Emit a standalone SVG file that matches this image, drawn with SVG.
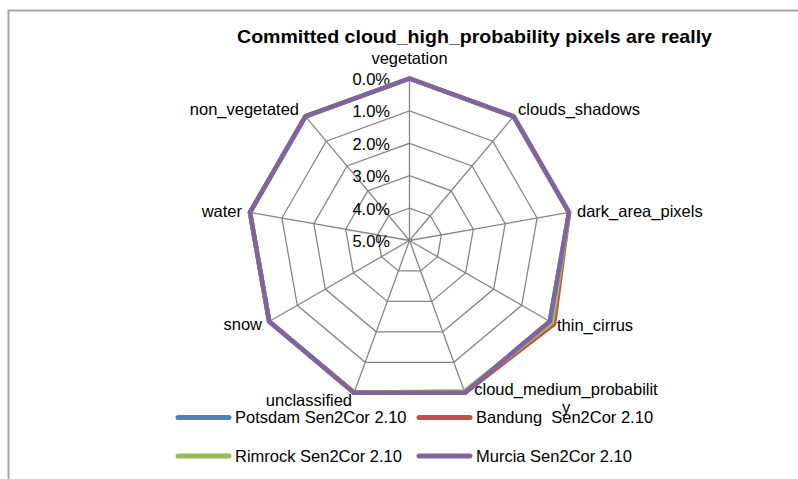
<svg xmlns="http://www.w3.org/2000/svg" width="798" height="479" viewBox="0 0 798 479">
<style>
.t{font-family:"Liberation Sans",Arial,sans-serif;font-size:16.5px;fill:#000}
.grid{fill:none;stroke:#868686;stroke-width:1.3}
.ser{fill:none;stroke-width:4.5;stroke-linejoin:round}
.leg{stroke-width:5;stroke-linecap:round}
</style>
<rect width="798" height="479" fill="#fff"/>
<path d="M8.5 479 V10.5 H798" fill="none" stroke="#a6a6a6" stroke-width="2"/>
<text x="474.5" y="43" font-family="Liberation Sans,Arial,sans-serif" font-size="19" font-weight="bold" text-anchor="middle" textLength="475" lengthAdjust="spacingAndGlyphs">Committed cloud_high_probability pixels are really</text>
<g id="grid">
<polygon class="grid" points="409.5,78.5 513.6,116.4 569,212.4 549.8,321.5 464.9,392.7 354.1,392.7 269.2,321.5 250,212.4 305.4,116.4"/>
<polygon class="grid" points="409.5,110.9 492.8,141.2 537.1,218 521.7,305.3 453.8,362.3 365.2,362.3 297.3,305.3 281.9,218 326.2,141.2"/>
<polygon class="grid" points="409.5,143.3 472,166 505.2,223.6 493.7,289.1 442.7,331.8 376.3,331.8 325.3,289.1 313.8,223.6 347,166"/>
<polygon class="grid" points="409.5,175.7 451.2,190.9 473.3,229.3 465.6,272.9 431.7,301.4 387.3,301.4 353.4,272.9 345.7,229.3 367.8,190.9"/>
<polygon class="grid" points="409.5,208.1 430.3,215.7 441.4,234.9 437.6,256.7 420.6,270.9 398.4,270.9 381.4,256.7 377.6,234.9 388.7,215.7"/>
<path class="grid" d="M409.5 240.5 L409.5 78.5 M409.5 240.5 L513.6 116.4 M409.5 240.5 L569 212.4 M409.5 240.5 L549.8 321.5 M409.5 240.5 L464.9 392.7 M409.5 240.5 L354.1 392.7 M409.5 240.5 L269.2 321.5 M409.5 240.5 L250 212.4 M409.5 240.5 L305.4 116.4"/>
</g>
<g id="ticks" class="t" text-anchor="end">
<text x="390" y="85">0.0%</text>
<text x="390" y="117.4">1.0%</text>
<text x="390" y="149.8">2.0%</text>
<text x="390" y="182.2">3.0%</text>
<text x="390" y="214.6">4.0%</text>
<text x="390" y="247">5.0%</text>
</g>
<g id="connectors">
<polygon id="potsdam" class="ser" stroke="#4F81BD" points="409.5,78.5 513.6,116.4 569,212.4 549.8,321.5 464.9,392.7 354.1,392.7 269.2,321.5 250,212.4 305.4,116.4"/>
<polygon id="bandung" class="ser" stroke="#C0504D" points="409.5,78.5 513.6,116.4 569,212.4 554.1,324 464.9,392.7 354.1,392.7 269.2,321.5 250,212.4 305.4,116.4"/>
<polygon id="rimrock" class="ser" stroke="#9BBB59" points="409.5,78.5 513.6,116.4 569,212.4 552,322.8 464.4,391.3 354.1,392.7 269.2,321.5 250,212.4 305.4,116.4"/>
<polygon id="murcia" class="ser" stroke="#8064A2" points="409.5,78.5 513.6,116.4 569,212.4 549.8,321.5 464.9,392.7 354.1,392.7 269.2,321.5 250,212.4 305.4,116.4"/>
</g>
<g id="axis-vegetation"><text class="t" x="409.5" y="64" text-anchor="middle">vegetation</text></g>
<g id="axis-clouds_shadows"><text class="t" x="518" y="115">clouds_shadows</text></g>
<g id="axis-dark_area_pixels"><text class="t" x="577" y="217">dark_area_pixels</text></g>
<g id="axis-thin_cirrus"><text class="t" x="557" y="331">thin_cirrus</text></g>
<g id="axis-cloud_medium_probability"><text class="t" text-anchor="middle"><tspan x="566" y="395">cloud_medium_probabilit</tspan><tspan x="566" y="413">y</tspan></text></g>
<g id="axis-unclassified"><text class="t" x="352" y="406" text-anchor="end">unclassified</text></g>
<g id="axis-snow"><text class="t" x="262" y="330" text-anchor="end">snow</text></g>
<g id="axis-water"><text class="t" x="242" y="217" text-anchor="end">water</text></g>
<g id="axis-non_vegetated"><text class="t" x="299" y="115" text-anchor="end">non_vegetated</text></g>
<g id="legend">
<line class="leg" x1="178" y1="417.5" x2="229" y2="417.5" stroke="#4F81BD"/>
<text class="t" x="235" y="423">Potsdam Sen2Cor 2.10</text>
<line class="leg" x1="419" y1="417.5" x2="470" y2="417.5" stroke="#C0504D"/>
<text class="t" x="476" y="423" xml:space="preserve">Bandung  Sen2Cor 2.10</text>
<line class="leg" x1="178" y1="456" x2="229" y2="456" stroke="#9BBB59"/>
<text class="t" x="235" y="461.5">Rimrock Sen2Cor 2.10</text>
<line class="leg" x1="419" y1="456" x2="470" y2="456" stroke="#8064A2"/>
<text class="t" x="476" y="461.5">Murcia Sen2Cor 2.10</text>
</g>
</svg>
